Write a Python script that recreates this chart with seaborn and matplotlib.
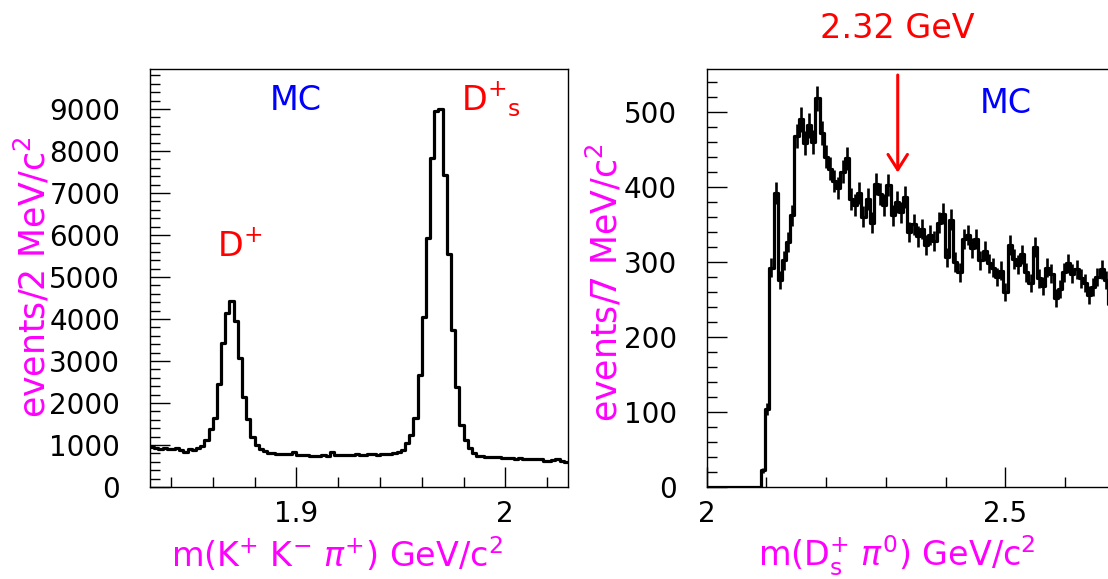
import numpy as np
import pandas as pd
import matplotlib
matplotlib.use("Agg")
import matplotlib.pyplot as plt
import seaborn as sns
from matplotlib.ticker import MultipleLocator

# ---- m(K+ K- pi+) spectrum: 2 MeV bins starting at 1.83 GeV ----
kkpi_start, kkpi_binw = 1.83, 0.002
kkpi_counts = [
    955, 920, 905, 920, 900, 915, 930, 880, 845, 895,
    890, 925, 965, 1120, 1370, 1640, 2440, 3420, 4150, 4430,
    3940, 3060, 2150, 1630, 1200, 1000, 895, 850, 815, 800,
    790, 790, 795, 785, 835, 770, 750, 755, 740, 745,
    745, 760, 745, 830, 760, 750, 765, 760, 770, 775,
    760, 770, 780, 775, 770, 785, 790, 795, 805, 830,
    880, 1040, 1240, 1650, 2670, 4040, 5920, 7820, 8960, 9000,
    7430, 5540, 3740, 2390, 1480, 1120, 920, 800, 740, 735,
    720, 715, 710, 715, 700, 690, 680, 675, 690, 665,
    660, 670, 655, 660, 630, 615, 640, 655, 625, 605,
]

# ---- m(Ds+ pi0) spectrum: 7 MeV bins starting at 2.0 GeV ----
dspi_start, dspi_binw = 2.0, 0.007
dspi_counts = [
    0, 0, 0, 0, 0, 0, 0, 0, 0, 0,
    0, 0, 0, 22, 104, 292, 392, 276, 302, 326,
    362, 468, 490, 458, 482, 460, 518, 472, 440, 424,
    408, 398, 420, 438, 384, 376, 392, 360, 384, 352,
    404, 390, 376, 402, 362, 380, 366, 386, 340, 350,
    334, 344, 322, 336, 328, 352, 364, 306, 356, 300,
    286, 330, 336, 318, 330, 302, 314, 298, 292, 280,
    288, 260, 322, 304, 296, 310, 286, 272, 320, 278,
    268, 292, 284, 252, 264, 286, 298, 284, 290, 278,
    272, 256, 266, 280, 290, 276, 244,
]
# weight of one generated MC event in the D_s pi0 sample
dspi_mc_weight = 0.55

left_xticks = [1.9, 2.0]
left_xticklabels = ["1.9", "2"]
left_yticks = [0, 1000, 2000, 3000, 4000, 5000, 6000, 7000, 8000, 9000]
right_xticks = [2.0, 2.5]
right_xticklabels = ["2", "2.5"]
right_yticks = [0, 100, 200, 300, 400, 500]
marked_mass = 2.32
marked_text = "2.32 GeV"

sns.set_style("ticks")
plt.rcParams["font.family"] = ["DejaVu Sans"]
plt.rcParams["mathtext.fontset"] = "dejavusans"
plt.rcParams["mathtext.default"] = "regular"

MAGENTA = "#ff00ff"
RED = "#ff0000"
BLUE = "#0000ff"

W, H = 1108, 579
fig = plt.figure(figsize=(W / 100, H / 100), dpi=100)


def px_axes(x0, y_top, w, h):
    return fig.add_axes([x0 / W, (H - y_top - h) / H, w / W, h / H])


ax1 = px_axes(150, 69, 418, 418)
ax2 = px_axes(706.7, 69, 477.6, 418)


def draw_hist(ax, start, binw, counts, weight=None):
    n = len(counts)
    edges = start + binw * np.arange(n + 1)
    df = pd.DataFrame({"mass": 0.5 * (edges[:-1] + edges[1:]),
                       "events": counts})
    sns.histplot(data=df, x="mass", weights="events", bins=edges.tolist(),
                 element="step", fill=False, color="black", linewidth=2.3,
                 ax=ax)
    if weight is not None:
        # statistical uncertainty of a weighted MC histogram
        err = np.sqrt(weight * df["events"].to_numpy())
        ax.errorbar(df["mass"], df["events"], yerr=err, fmt="none",
                    ecolor="black", elinewidth=1.9, capsize=0)


draw_hist(ax1, kkpi_start, kkpi_binw, kkpi_counts)
draw_hist(ax2, dspi_start, dspi_binw, dspi_counts, weight=dspi_mc_weight)

ax1.set_xlim(1.83, 2.03)
ax1.set_ylim(0, 9950)
ax2.set_xlim(2.0, 2.8)
ax2.set_ylim(0, 557)

for ax in (ax1, ax2):
    ax.set_xlabel("")
    ax.set_ylabel("")
    for s in ax.spines.values():
        s.set_visible(True)
        s.set_linewidth(1.0)
        s.set_color("black")
    ax.tick_params(which="both", direction="in", top=False, right=False,
                   colors="black", width=1.0, labelsize=20)
    ax.tick_params(which="major", length=14.4)
    ax.tick_params(which="minor", length=7.2)
    ax.tick_params(axis="y", pad=21.5)
    ax.tick_params(axis="x", pad=9.0)

ax1.set_xticks(left_xticks, left_xticklabels)
ax1.xaxis.set_minor_locator(MultipleLocator(0.02))
ax1.set_yticks(left_yticks, [str(v) for v in left_yticks])
ax1.yaxis.set_minor_locator(MultipleLocator(200))

ax2.set_xticks(right_xticks, right_xticklabels)
ax2.xaxis.set_minor_locator(MultipleLocator(0.1))
ax2.set_yticks(right_yticks, [str(v) for v in right_yticks])
ax2.yaxis.set_minor_locator(MultipleLocator(20))

# panel annotations
ax1.text(1.8998, 8973, "MC", color=BLUE, fontsize=24, ha="center", va="baseline")
ax1.text(1.8619, 5474, r"D$^{+}$", color=RED, fontsize=24, ha="left", va="baseline")
ax1.text(1.9789, 8949, r"D$^{+}$$_{s}$", color=RED, fontsize=24, ha="left", va="baseline")
ax2.text(2.501, 498.7, "MC", color=BLUE, fontsize=24, ha="center", va="baseline")

# marker for the 2.32 GeV state
ax2.annotate("", xy=(marked_mass, 419), xytext=(marked_mass, 549),
             arrowprops=dict(arrowstyle="->,head_length=1.1,head_width=0.7",
                             mutation_scale=10, color=RED, lw=2.2,
                             shrinkA=0, shrinkB=0))
fig.text(897 / W, (H - 38.3) / H, marked_text, color=RED, fontsize=24,
         ha="center", va="baseline")

# axis titles
fig.text(337 / W, 12 / H, r"m(K$^{+}$ K$^{-}$ $\mathit{\pi}^{+}$) GeV/c$^{2}$",
         color=MAGENTA, fontsize=24, ha="center", va="baseline")
fig.text(897 / W, 12 / H, r"m(D$^{+}_{s}$ $\mathit{\pi}^{0}$) GeV/c$^{2}$",
         color=MAGENTA, fontsize=24, ha="center", va="baseline")
fig.text(33 / W, (H - 277) / H, r"events/2 MeV/c$^{2}$", color=MAGENTA,
         fontsize=25, rotation=90, ha="center", va="center")
fig.text(605 / W, (H - 283) / H, r"events/7 MeV/c$^{2}$", color=MAGENTA,
         fontsize=25, rotation=90, ha="center", va="center")

fig.savefig("out.png", dpi=100)
